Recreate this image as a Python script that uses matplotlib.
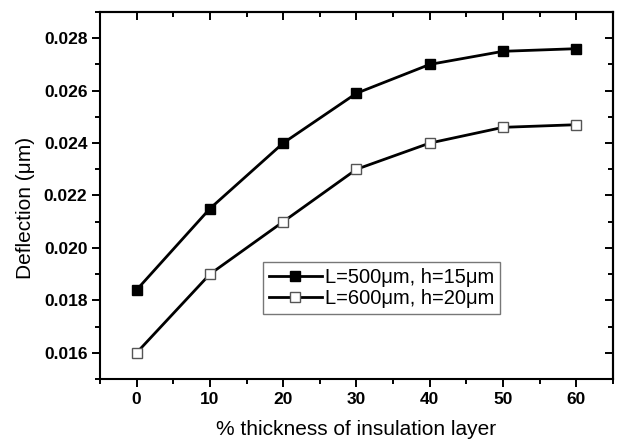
import numpy as np
import matplotlib.pyplot as plt
from matplotlib.ticker import MultipleLocator

plt.rcParams['font.family'] = ['Liberation Sans', 'DejaVu Sans']

thickness = [0, 10, 20, 30, 40, 50, 60]
defl_500 = [0.0184, 0.0215, 0.0240, 0.0259, 0.0270, 0.0275, 0.0276]
defl_600 = [0.0160, 0.0190, 0.0210, 0.0230, 0.0240, 0.0246, 0.0247]
labels = ['L=500\u03bcm, h=15\u03bcm', 'L=600\u03bcm, h=20\u03bcm']

fig = plt.figure(figsize=(6.18, 4.42), dpi=100)
ax = fig.add_axes([0.1618, 0.1425, 0.8301, 0.8304])

ax.plot(thickness, defl_500, '-s', color='black', lw=2.0, ms=7,
        mfc='black', mec='black', label=labels[0])
ax.plot(thickness, defl_600, '-s', color='black', lw=2.0, ms=7,
        mfc='white', mec='#555555', mew=1.0, label=labels[1])

ax.set_xlim(-5, 65)
ax.set_ylim(0.015, 0.029)
ax.xaxis.set_major_locator(MultipleLocator(10))
ax.xaxis.set_minor_locator(MultipleLocator(5))
ax.yaxis.set_major_locator(MultipleLocator(0.002))
ax.yaxis.set_minor_locator(MultipleLocator(0.001))
ax.yaxis.set_major_formatter(plt.FormatStrFormatter('%.3f'))

ax.tick_params(which='major', direction='out', length=6, width=1.4, labelsize=12.5, pad=3)
ax.tick_params(which='minor', direction='out', length=3.5, width=1.4)
for lab in ax.get_xticklabels() + ax.get_yticklabels():
    lab.set_fontweight('bold')

# mirrored ticks pointing inwards on top and right
top = ax.secondary_xaxis('top')
top.xaxis.set_major_locator(MultipleLocator(10))
top.xaxis.set_minor_locator(MultipleLocator(5))
top.tick_params(which='major', direction='in', length=6, width=1.4, labeltop=False)
top.tick_params(which='minor', direction='in', length=3.5, width=1.4)
right = ax.secondary_yaxis('right')
right.yaxis.set_major_locator(MultipleLocator(0.002))
right.yaxis.set_minor_locator(MultipleLocator(0.001))
right.tick_params(which='major', direction='in', length=6, width=1.4, labelright=False)
right.tick_params(which='minor', direction='in', length=3.5, width=1.4)

for s in list(ax.spines.values()) + [top.spines['top'], right.spines['right']]:
    s.set_linewidth(1.5)

ax.set_xlabel('% thickness of insulation layer', fontsize=15, va='center')
ax.set_ylabel('Deflection (\u03bcm)', fontsize=15, va='center')
ax.xaxis.set_label_coords(0.5, -0.137)
ax.yaxis.set_label_coords(-0.146, 0.466)

leg = ax.legend(loc='lower left', bbox_to_anchor=(0.318, 0.177), fontsize=14.5,
                fancybox=False, framealpha=1, edgecolor='#777777',
                borderaxespad=0, borderpad=0.3, handlelength=2.6,
                handletextpad=0.15, labelspacing=0.1)
leg.get_frame().set_linewidth(1.0)

fig.savefig('out.png', dpi=100)
